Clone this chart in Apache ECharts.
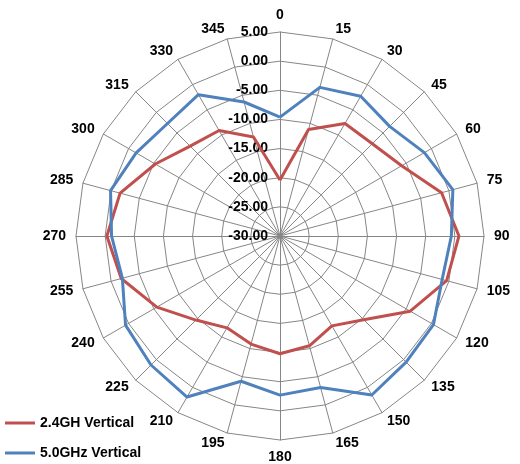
<!DOCTYPE html>
<html>
<head>
<meta charset="utf-8">
<script src="https://cdn.jsdelivr.net/npm/echarts@6/dist/echarts.min.js"></script>
<style>
  html, body { margin: 0; padding: 0; background: #fff; }
  #main { width: 520px; height: 464px; }
</style>
</head>
<body>
<div id="main"></div>
<script>
// angles in degrees, clockwise from top
var angles = [0, 15, 30, 45, 60, 75, 90, 105, 120, 135, 150, 165,
              180, 195, 210, 225, 240, 255, 270, 285, 300, 315, 330, 345];
var ticks = [-30, -25, -20, -15, -10, -5, 0, 5];
var v24 = [-20.4, -11.1, -7.7, -7.6, -5.9, -1.3, 0.7, -0.4, -4.2, -9.7, -12.2, -10.5,
           -9.8, -10.8, -11.8, -9.6, -5.6, -1.8, -0.3, -1.6, -5.3, -8.2, -9.1, -12.4];
var v50 = [-9.6, -3.6, -2.3, -3.4, -1.4, 0.7, -0.6, -1.2, 0.4, 0.6, 1.5, -3.1,
           -2.7, -4.2, 1.9, 1.3, 0.6, -2.0, -1.1, 0.1, -1.5, -2.7, -2.0, -6.2];
var names = ['2.4GH Vertical', '5.0GHz Vertical'];

// radar runs counter-clockwise, so walk the angles backwards after 0
function order(arr) {
  return [arr[0]].concat(arr.slice(1).reverse());
}

var font = '"Liberation Sans", Arial, sans-serif';
var indicator = order(angles).map(function (a, i) {
  var ind = { name: String(a), min: ticks[0], max: ticks[ticks.length - 1] };
  ind.axisLabel = { show: i === 0 };
  return ind;
});

var myChart = echarts.init(document.getElementById('main'));
var option = {
  animation: false,
  legend: {
    orient: 'vertical',
    left: 5,
    top: 416,
    padding: 0,
    itemWidth: 30,
    itemHeight: 3,
    itemGap: 16,
    icon: 'rect',
    data: names,
    textStyle: { color: '#000', fontSize: 14, fontWeight: 'bold', fontFamily: font }
  },
  radar: {
    center: [280, 236],
    radius: 204,
    startAngle: 90,
    shape: 'polygon',
    splitNumber: ticks.length - 1,
    indicator: indicator,
    axisName: { color: '#000', fontSize: 14, fontWeight: 'bold', fontFamily: font },
    nameGap: 10,
    axisLine: { lineStyle: { color: '#868686', width: 1 } },
    splitLine: { lineStyle: { color: '#868686', width: 1 } },
    splitArea: { show: false },
    axisTick: { show: false },
    axisLabel: {
      color: '#000', fontSize: 14, fontWeight: 'bold', fontFamily: font,
      margin: 12,
      formatter: function (v) { return Number(v).toFixed(2); }
    }
  },
  series: [{
    type: 'radar',
    symbol: 'none',
    data: [
      { name: names[0], value: order(v24),
        itemStyle: { color: '#C0504D' }, lineStyle: { color: '#C0504D', width: 3 } },
      { name: names[1], value: order(v50),
        itemStyle: { color: '#4F81BD' }, lineStyle: { color: '#4F81BD', width: 3 } }
    ]
  }]
};
myChart.setOption(option);
</script>
</body>
</html>
